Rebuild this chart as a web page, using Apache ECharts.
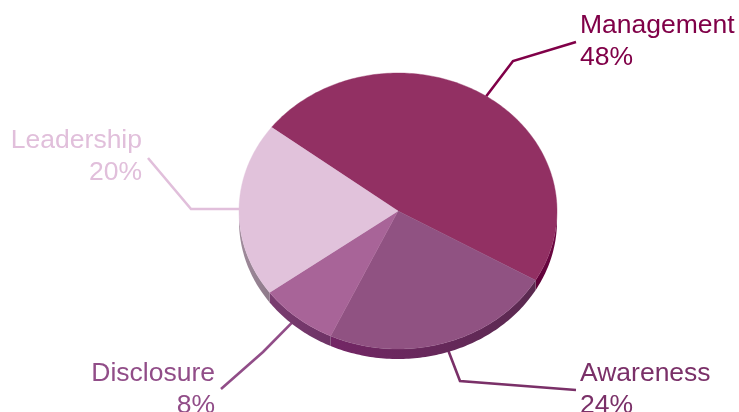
<!DOCTYPE html>
<html>
<head>
<meta charset="utf-8">
<style>html,body{margin:0;padding:0;background:#fff}#c{width:739px;height:412px}</style>
<script src="https://cdn.jsdelivr.net/npm/echarts@6/dist/echarts.min.js"></script>
</head>
<body>
<div id="c"></div>
<script>
// Data
var categories = ['Management', 'Awareness', 'Disclosure', 'Leadership'];
var values = [48, 23.6, 8, 20.4];
// Styles
var topColors = ['#923063', '#905282', '#A86498', '#E1C2DB'];
var sideColors = [
  ['#6E0A44', '#5E0038'],
  ['#5A2A50', '#732665'],
  ['#6E3366', '#7A3D70'],
  ['#8E7A8A', '#A08C9C']
];
var labelColors = ['#800048', '#7A3068', '#914D88', '#E1BFDB'];
var lineColors = ['#800048', '#7A3068', '#914D88', '#E1BFDB'];
// Layout
var CX = 398, CY = 211, RX = 159, RY = 138, DEPTH = 10, START = 142.7;
var leaders = [
  {start: [0, 0], mid: [513, 61], end: [576, 42], label: [580, 10], align: 'left'},
  {start: [2, 6], mid: [460, 381], end: [576, 390], label: [580, 358], align: 'left'},
  {start: [-1, 1], mid: [263, 352], end: [221, 389], label: [215, 358], align: 'right'},
  {start: [0, -0.6], mid: [191, 209], end: [148, 158], label: [142, 125], align: 'right'}
];

var total = values.reduce(function (a, b) { return a + b; }, 0);
function angles(i) {
  var before = 0;
  for (var k = 0; k < i; k++) before += values[k];
  return [START - before / total * 360, START - (before + values[i]) / total * 360];
}
function pt(deg, dy) {
  var r = deg * Math.PI / 180;
  return [CX + RX * Math.cos(r), CY - RY * Math.sin(r) + (dy || 0)];
}
function arc(a0, a1, dy) {
  var pts = [], n = Math.max(2, Math.ceil(Math.abs(a0 - a1)));
  for (var j = 0; j <= n; j++) pts.push(pt(a0 + (a1 - a0) * j / n, dy));
  return pts;
}

function renderSide(params) {
  var i = params.dataIndex, a = angles(i);
  var lo = a[1], hi = a[0];
  var children = [];
  [[-180, 0], [-540, -360]].forEach(function (w) {
    var s = Math.min(hi, w[1]), e = Math.max(lo, w[0]);
    if (s > e) {
      var front = arc(s, e, 0), back = arc(e, s, DEPTH);
      children.push({
        type: 'polygon',
        shape: {points: front.concat(back)},
        style: {
          fill: new echarts.graphic.LinearGradient(0, 0, 1, 0, [
            {offset: 0, color: sideColors[i][1]},
            {offset: 1, color: sideColors[i][0]}
          ])
        }
      });
    }
  });
  return {type: 'group', children: children};
}
function renderTop(params) {
  var i = params.dataIndex, a = angles(i);
  return {
    type: 'polygon',
    shape: {points: [[CX, CY]].concat(arc(a[0], a[1], 0))},
    style: {fill: topColors[i], stroke: topColors[i], lineWidth: 0.4}
  };
}
function renderLabel(params) {
  var i = params.dataIndex, a = angles(i), L = leaders[i];
  var p = pt((a[0] + a[1]) / 2, 0);
  var pct = Math.round(values[i] / total * 100) + '%';
  return {
    type: 'group',
    children: [
      {
        type: 'polyline',
        shape: {points: [[p[0] + L.start[0], p[1] + L.start[1]], L.mid, L.end]},
        style: {fill: 'none', stroke: lineColors[i], lineWidth: 2.6}
      },
      {
        type: 'text',
        x: L.label[0], y: L.label[1],
        style: {
          text: categories[i] + '\n' + pct,
          fill: labelColors[i],
          font: '26.5px "Liberation Sans", Arial, sans-serif',
          lineHeight: 32,
          align: L.align,
          verticalAlign: 'top'
        }
      }
    ]
  };
}

var chart = echarts.init(document.getElementById('c'), null, {renderer: 'canvas'});
chart.setOption({
  animation: false,
  backgroundColor: '#ffffff',
  series: [
    {type: 'custom', coordinateSystem: 'none', data: values, renderItem: renderLabel, z: 1, silent: true},
    {type: 'custom', coordinateSystem: 'none', data: values, renderItem: renderSide, z: 2, silent: true},
    {type: 'custom', coordinateSystem: 'none', data: values, renderItem: renderTop, z: 3, silent: true}
  ]
});
</script>
</body>
</html>
